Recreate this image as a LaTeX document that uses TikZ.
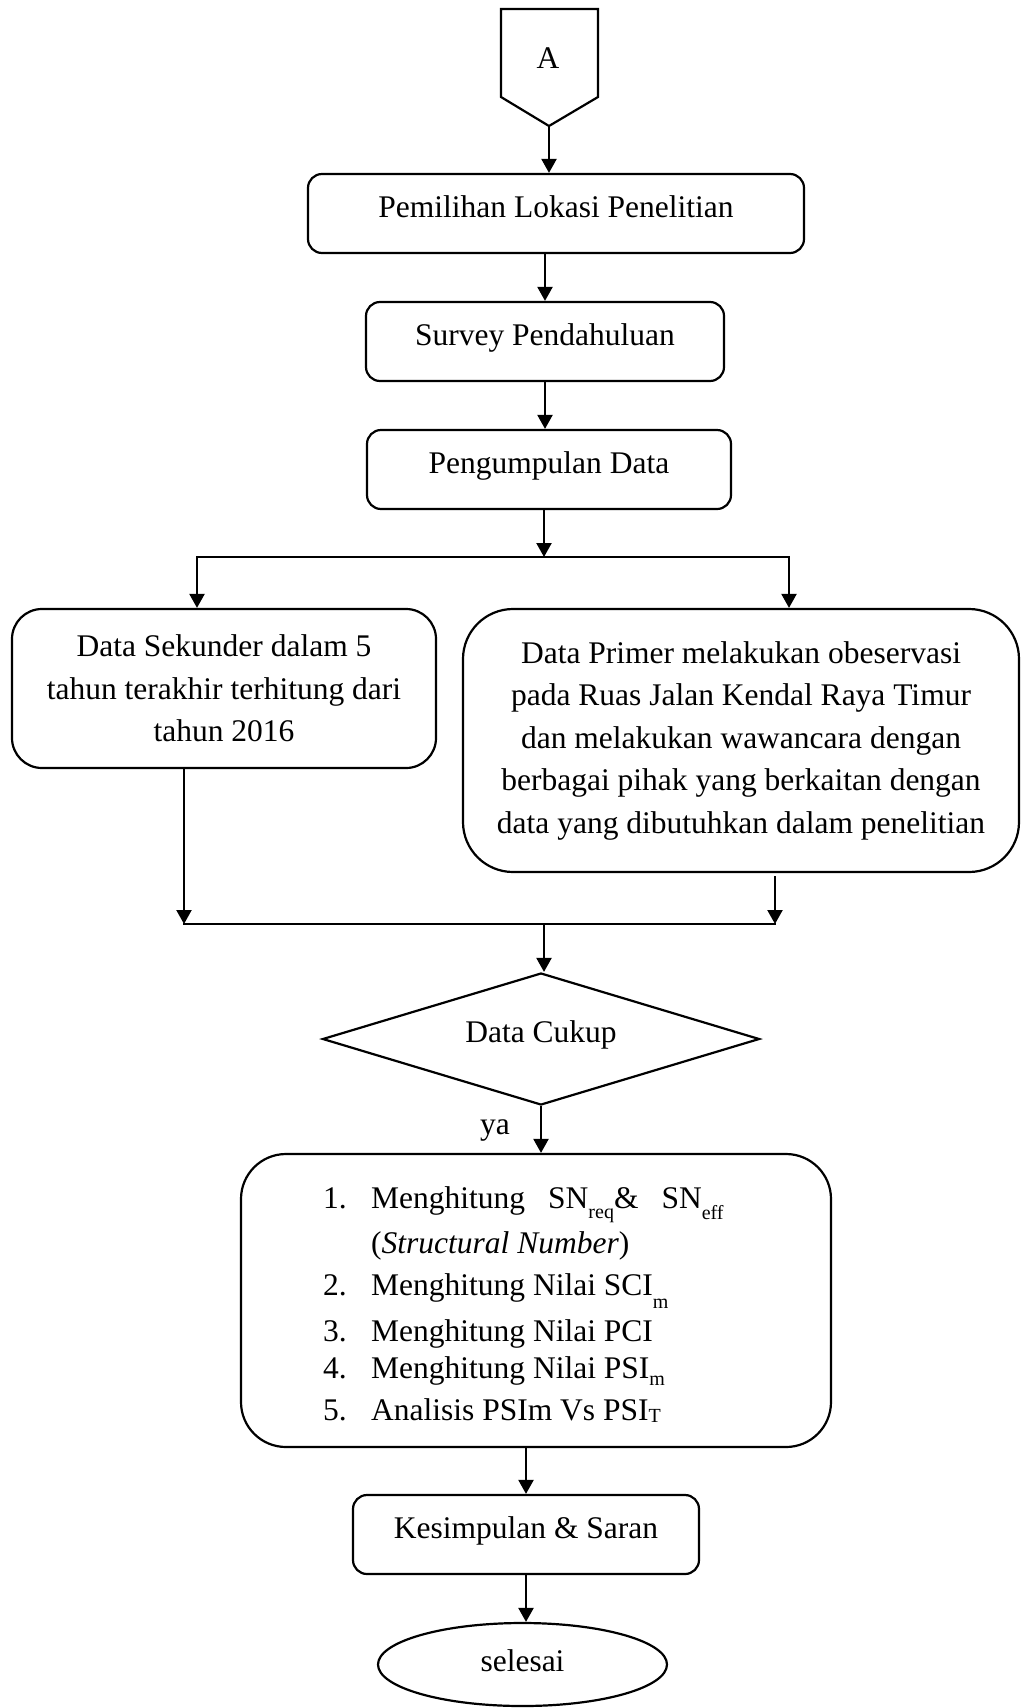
\documentclass[tikz,border=0pt]{standalone}
\usepackage{fontspec}
\setmainfont{Liberation Serif}
\usetikzlibrary{shapes.geometric,arrows.meta}
\newcommand\fsz{\fontsize{31.5}{42.5}\selectfont}
\newcommand\lsub[2]{\raisebox{-#1}{\fontsize{20}{20}\selectfont #2}}
\newcommand\numbox[1]{\makebox[48pt][l]{#1}}
\begin{document}
\begin{tikzpicture}[x=1pt,y=-1pt,
  base/.style={draw, line width=2.2pt, font=\fsz, align=center, inner sep=0pt},
  smallbox/.style={base, rounded corners=14pt, text height=16pt, text depth=9pt, minimum height=79pt},
  arr/.style={line width=2.2pt, -{Triangle[length=14pt,width=15pt]}},
  ln/.style={line width=2.2pt, line cap=rect},
  listline/.style={anchor=base west, inner sep=0pt, font=\fsz}
]
\useasboundingbox (0,0) rectangle (1022,1708);

% off-page connector A
\draw[line width=2.2pt, line join=miter] (501,9) -- (598,9) -- (598,97) -- (549,126) -- (501,97) -- cycle;
\node[font=\fsz, inner sep=0pt] (a) at (548,58) {A};
\coordinate (ap) at (549,126);

\node[smallbox, minimum width=496pt] (p1) at (556,213.5) {Pemilihan Lokasi Penelitian};
\node[smallbox, minimum width=358pt] (p2) at (545,341.5) {Survey Pendahuluan};
\node[smallbox, minimum width=364pt] (p3) at (549,469.5) {Pengumpulan Data};

\coordinate (sp) at (544,557);
\coordinate (spl) at (197,557);
\coordinate (spr) at (789,557);

\node[base, rounded corners=30pt, minimum width=424pt, minimum height=159pt] (ds) at (224,688.5)
  {Data Sekunder dalam 5\\tahun terakhir terhitung dari\\tahun 2016};
\node[base, rounded corners=50pt, minimum width=556pt, minimum height=263pt] (dp) at (741,740.5)
  {Data Primer melakukan obeservasi\\pada Ruas Jalan Kendal Raya Timur\\dan melakukan wawancara dengan\\berbagai pihak yang berkaitan dengan\\data yang dibutuhkan dalam penelitian};

\coordinate (ml) at (184,924);
\coordinate (mr) at (775,924);
\coordinate (mrs) at (775,876);
\coordinate (mc) at (544,924);

\node[base, diamond, shape aspect=3.3, minimum width=437pt, minimum height=132pt, text height=16pt, text depth=9pt] (dc) at (541,1039) {Data Cukup};

\node[base, rounded corners=45pt, minimum width=590pt, minimum height=293pt] (lb) at (536,1300.5) {};
\node[listline] (l1) at (323,1208) {\numbox{1.}Menghitung\hspace{23pt}SN\lsub{10pt}{req}\&\hspace{23pt}SN\lsub{11pt}{eff}};
\node[listline] (l2) at (323,1253) {\numbox{}(\textit{Structural Number})};
\node[listline] (l3) at (323,1295) {\numbox{2.}Menghitung Nilai SCI\lsub{13pt}{m}};
\node[listline] (l4) at (323,1341) {\numbox{3.}Menghitung Nilai PCI};
\node[listline] (l5) at (323,1378) {\numbox{4.}Menghitung Nilai PSI\lsub{7pt}{m}};
\node[listline] (l6) at (323,1420) {\numbox{5.}Analisis PSIm Vs PSI\lsub{2pt}{T}};

\node[smallbox, minimum width=346pt] (ks) at (526,1534.5) {Kesimpulan \& Saran};
\node[base, ellipse, minimum width=289pt, minimum height=83pt, text height=16pt, text depth=3pt] (se) at (522.5,1664.5) {selesai};

% connectors
\draw[arr] (ap) -- (ap |- p1.north);
\draw[arr] (p2.north |- p1.south) -- (p2.north);
\draw[arr] (p2.south) -- (p2.south |- p3.north);
\draw[arr] (sp |- p3.south) -- (sp);
\draw[ln] (spl) -- (spr);
\draw[arr] (spl) -- (spl |- ds.north);
\draw[arr] (spr) -- (spr |- dp.north);
\draw[arr] (ml |- ds.south) -- (ml);
\draw[arr] (mrs) -- (mr);
\draw[ln] (ml) -- (mr);
\draw[arr] (mc) -- (mc |- dc.north);
\draw[arr] (dc.south) -- node[pos=0.53, anchor=east, xshift=-30pt, inner sep=0pt, font=\fsz] (ya) {ya} (dc.south |- lb.north);
\draw[arr] (ks.north |- lb.south) -- (ks.north);
\draw[arr] (ks.south) -- (ks.south |- se.north);
\end{tikzpicture}
\end{document}
